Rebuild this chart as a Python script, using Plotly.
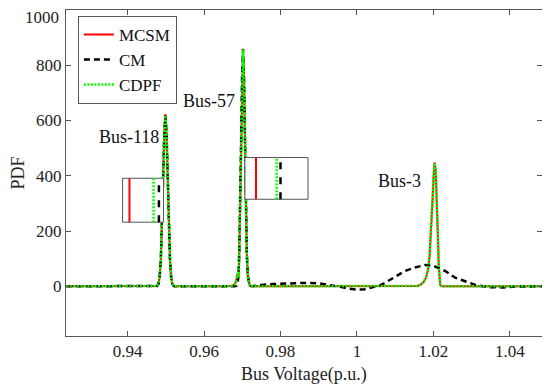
import plotly.graph_objects as go

# ---------------- data ----------------
mcsm_x = [0.9240, 0.9473, 0.9477, 0.9481, 0.9484, 0.9487, 0.9490, 0.9493, 0.9496, 0.9499,
          0.9502, 0.9505, 0.9508, 0.9511, 0.9514, 0.9517, 0.9521, 0.9525,
          0.9655, 0.9672, 0.9680, 0.9684, 0.9687, 0.9689, 0.9691, 0.9692, 0.96945, 0.9697,
          0.96995, 0.9702, 0.97045, 0.9707, 0.97095, 0.9712, 0.97145, 0.9717, 0.97195, 0.9725,
          1.0140, 1.0158, 1.0166, 1.0174, 1.0181, 1.0186, 1.0190, 1.0194, 1.0198, 1.0201,
          1.0203, 1.0206, 1.0209, 1.0212, 1.0214, 1.0216, 1.0218, 1.0222, 1.0484]
mcsm_y = [0, 0, 1, 9, 33, 95, 217, 389, 553, 622,
          553, 389, 217, 95, 33, 9, 1, 0,
          0, 1, 6, 18, 40, 48, 32, 116, 279, 522,
          759, 860, 759, 522, 279, 116, 38, 10, 2, 0,
          0, 1, 5, 14, 32, 60, 110, 200, 320, 410,
          448, 420, 320, 170, 70, 20, 4, 0, 0]

cdpf_x = mcsm_x
cdpf_y = [0, 0, 1, 8, 32, 94, 215, 387, 550, 618,
          551, 388, 216, 96, 34, 9, 1, 0,
          0, 1, 6, 19, 41, 47, 31, 114, 277, 520,
          757, 857, 757, 520, 278, 115, 37, 10, 2, 0,
          0, 1, 5, 15, 33, 61, 112, 202, 322, 408,
          445, 418, 318, 168, 69, 19, 4, 0, 0]

cm_x = [0.9240, 0.9473, 0.9477, 0.9481, 0.9484, 0.9487, 0.9490, 0.9493, 0.9496, 0.9499,
        0.9502, 0.9505, 0.9508, 0.9511, 0.9514, 0.9517, 0.9521, 0.9525,
        0.9680, 0.9685, 0.9688, 0.9690, 0.9692, 0.96945, 0.9697, 0.96995, 0.9702, 0.97045,
        0.9707, 0.97095, 0.9712, 0.97145, 0.9717, 0.97195, 0.9725,
        0.9735, 0.9750, 0.9780, 0.9820, 0.9860, 0.9900, 0.9930, 0.9960, 0.9980, 1.0000,
        1.0020, 1.0040, 1.0060, 1.0074, 1.0100, 1.0125, 1.0152, 1.0178, 1.0200, 1.0231,
        1.0257, 1.0292, 1.0310, 1.0344, 1.0379, 1.0414, 1.0440, 1.0484]
cm_y = [0, 0, 1, 9, 33, 95, 217, 389, 553, 618,
        553, 389, 217, 95, 33, 9, 1, 0,
        0, 2, 10, 38, 116, 279, 522, 759, 858, 759,
        522, 279, 116, 38, 10, 2, 0,
        2, 5, 8, 10, 12, 11, 5, -3, -9, -12,
        -11, -5, 3, 13, 35, 55, 68, 77, 74, 55,
        31, 13, 5, -3, -4, -1, 0, 0]

# zoom-in boxes (x0, x1, y0, y1) and the marker lines drawn inside them
box_x0 = [0.9387, 0.9707]
box_x1 = [0.9494, 0.9872]
box_y0 = [232, 315]
box_y1 = [391, 466]
box_red_x = [0.9405, 0.9736]
box_green_x = [0.9468, 0.9790]
box_black_x = [0.9482, 0.9800]

label_text = ["Bus-118", "Bus-57", "Bus-3"]
label_x = [0.9404, 0.9614, 1.0110]
label_y = [540, 671, 381]

x_tickvals = [0.94, 0.96, 0.98, 1.00, 1.02, 1.04]
x_ticktext = ["0.94", "0.96", "0.98", "1", "1.02", "1.04"]
y_tickvals = [0, 200, 400, 600, 800, 1000]
y_ticktext = ["0", "200", "400", "600", "800", ""]
y_top_label = "1000"   # top tick label, written slightly lower so it is not clipped
x_title = "Bus Voltage(p.u.)"
y_title = "PDF"

RED = "#ff0000"
BLACK = "#000000"
GREEN = "#00ff00"
FRAME = "#555555"
FONT = "Liberation Serif"

fig = go.Figure()
fig.add_trace(go.Scatter(x=mcsm_x, y=mcsm_y, mode="lines", name="MCSM",
                         line=dict(color=RED, width=2)))
fig.add_trace(go.Scatter(x=cm_x, y=cm_y, mode="lines", name="CM",
                         line=dict(color=BLACK, width=2.5, dash="6px,4px")))
fig.add_trace(go.Scatter(x=cdpf_x, y=cdpf_y, mode="lines", name="CDPF",
                         line=dict(color=GREEN, width=2.5, dash="2px,1.5px")))

for i in range(len(box_x0)):
    fig.add_trace(go.Scatter(
        x=[box_x0[i], box_x1[i], box_x1[i], box_x0[i], box_x0[i]],
        y=[box_y0[i], box_y0[i], box_y1[i], box_y1[i], box_y0[i]],
        mode="lines", fill="toself", fillcolor="white",
        line=dict(color=FRAME, width=1), showlegend=False, hoverinfo="skip"))
    fig.add_trace(go.Scatter(x=[box_red_x[i], box_red_x[i]], y=[box_y0[i], box_y1[i]],
                             mode="lines", line=dict(color=RED, width=2),
                             showlegend=False, hoverinfo="skip"))
    fig.add_trace(go.Scatter(x=[box_green_x[i], box_green_x[i]], y=[box_y0[i], box_y1[i]],
                             mode="lines", line=dict(color=GREEN, width=2.5, dash="2px,1.5px"),
                             showlegend=False, hoverinfo="skip"))
    fig.add_trace(go.Scatter(x=[box_black_x[i], box_black_x[i]], y=[box_y0[i], box_y1[i]],
                             mode="lines", line=dict(color=BLACK, width=2.5, dash="7px,8px"),
                             showlegend=False, hoverinfo="skip"))

for t, lx, ly in zip(label_text, label_x, label_y):
    fig.add_annotation(x=lx, y=ly, text=t, showarrow=False,
                       font=dict(family=FONT, size=18, color="#111"))

fig.add_annotation(xref="paper", x=0, y=y_tickvals[-1], yref="y", text=y_top_label,
                   showarrow=False, xanchor="right", yanchor="middle", xshift=-5, yshift=-7,
                   font=dict(family=FONT, size=17, color="#222"))

# x-axis title placed tight under the tick labels
fig.add_annotation(xref="paper", yref="paper", x=0.5, y=0, text=x_title, showarrow=False,
                   xanchor="center", yanchor="middle", yshift=-38,
                   font=dict(family=FONT, size=18, color="#222"))

axis_common = dict(showline=True, linecolor=FRAME, linewidth=1, mirror="ticks",
                   ticks="inside", ticklen=5, tickcolor=FRAME, showgrid=False,
                   zeroline=False, automargin=False,
                   tickfont=dict(family=FONT, size=17, color="#222"))

fig.update_xaxes(range=[0.9239, 1.0484], tickvals=x_tickvals, ticktext=x_ticktext,
                 ticklabelstandoff=0, **axis_common)
fig.update_yaxes(range=[-180, 1000], tickvals=y_tickvals, ticktext=y_ticktext,
                 title=dict(text=y_title, font=dict(family=FONT, size=18, color="#222"), standoff=8),
                 **axis_common)

# the page adds an 8 px margin round the figure, so the figure is 8 px smaller
fig.update_layout(
    width=542, height=378,
    margin=dict(l=58, r=8, t=2, b=50),
    paper_bgcolor="white", plot_bgcolor="white",
    font=dict(family=FONT, color="#222"),
    legend=dict(x=0.025, y=0.982, xanchor="left", yanchor="top",
                bgcolor="white", bordercolor=FRAME, borderwidth=1,
                font=dict(family=FONT, size=17, color="#111"),
                tracegroupgap=0, itemwidth=30),
    showlegend=True,
)

fig.write_html("out.html")
